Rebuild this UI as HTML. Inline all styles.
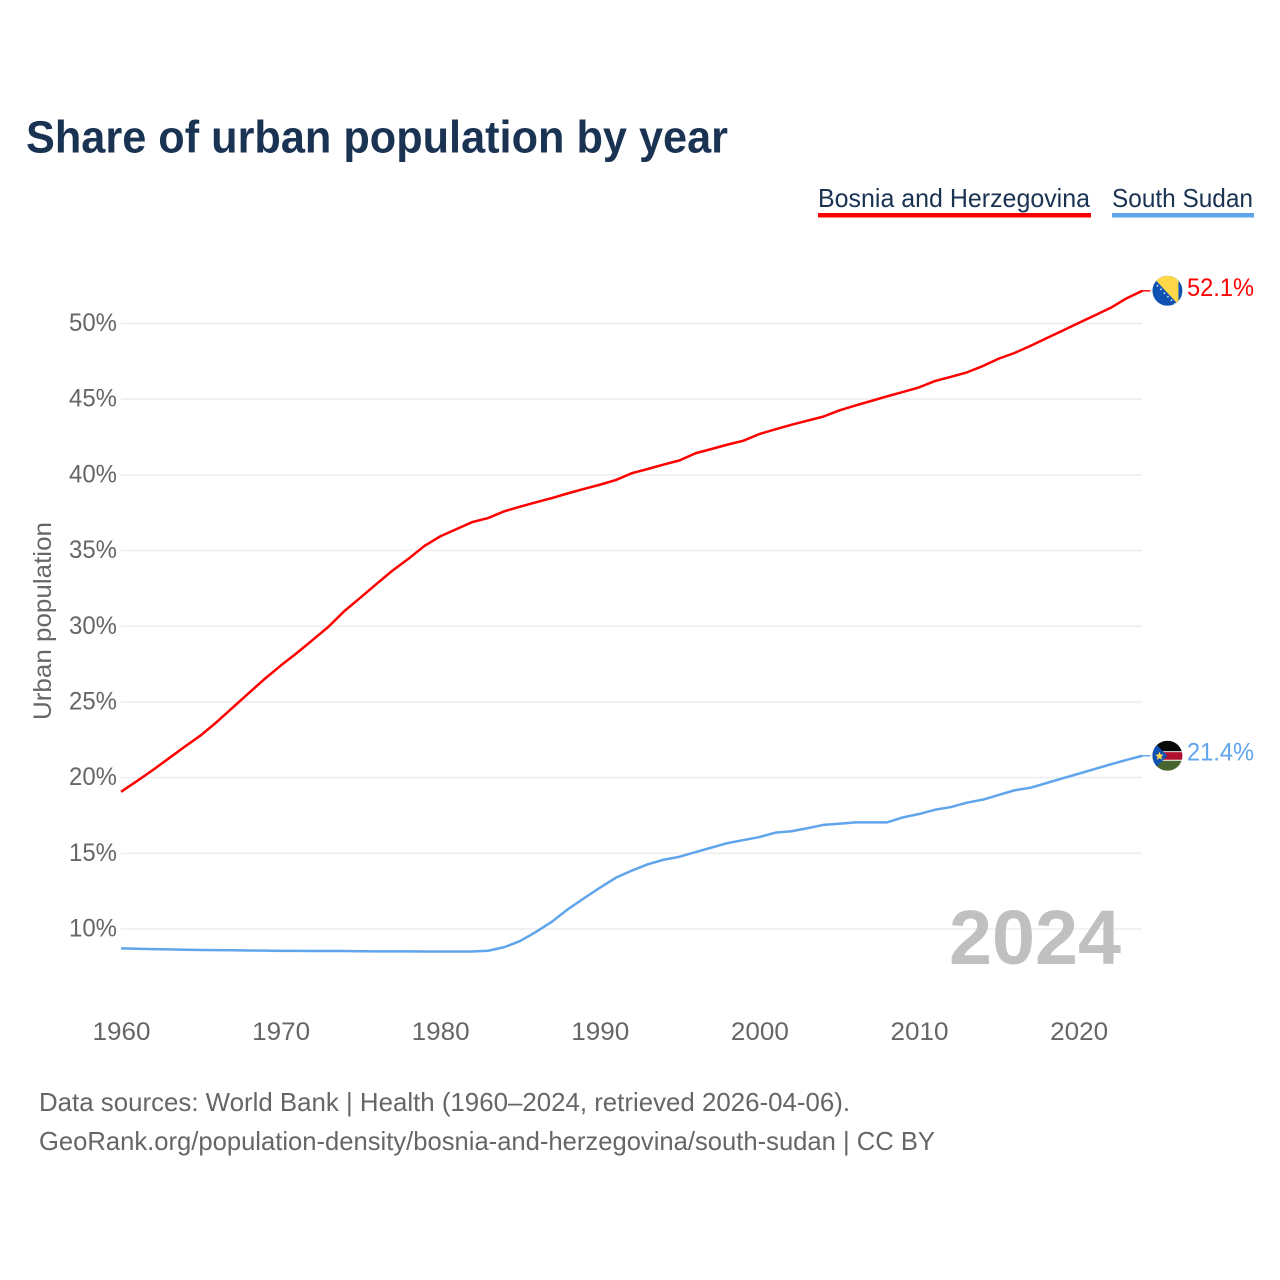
<!DOCTYPE html>
<html lang="en">
<head>
<meta charset="utf-8">
<title>Share of urban population by year</title>
<style>
html,body{margin:0;padding:0;background:#fff;width:1280px;height:1280px;overflow:hidden}
svg{display:block}
text{font-family:"Liberation Sans",sans-serif}
</style>
</head>
<body>
<svg id="chart" xmlns="http://www.w3.org/2000/svg" width="1280" height="1280" viewBox="0 0 1280 1280">
  <rect x="0" y="0" width="1280" height="1280" fill="#ffffff"/>
  <text x="26" y="152.5" font-size="45" font-weight="700" fill="#1a3353" textLength="702" lengthAdjust="spacingAndGlyphs">Share of urban population by year</text>

  <g>
    <g>
      <text x="818" y="207" font-size="26" fill="#1a3353" textLength="272" lengthAdjust="spacingAndGlyphs">Bosnia and Herzegovina</text>
      <rect x="818" y="213" width="273" height="4.5" fill="#ff0000"/>
    </g>
    <g>
      <text x="1112" y="207" font-size="26" fill="#1a3353" textLength="141" lengthAdjust="spacingAndGlyphs">South Sudan</text>
      <rect x="1112" y="213" width="142" height="4.5" fill="#60a5ec"/>
    </g>
  </g>

  <g id="grid"></g>
  <g id="yTicks"></g>
  <g id="xTicks"></g>

  <text x="51" y="720" transform="rotate(-90 51 720)" font-size="25" fill="#666666" textLength="198" lengthAdjust="spacingAndGlyphs">Urban population</text>

  <text x="949" y="964" font-size="77" font-weight="700" fill="#c0c0c0" textLength="172" lengthAdjust="spacingAndGlyphs">2024</text>

  <g id="series"></g>

  <defs>
    <clipPath id="clipBa"><circle cx="0" cy="0" r="15"/></clipPath>
    <clipPath id="clipSs"><circle cx="0" cy="0" r="15"/></clipPath>
  </defs>
  <g id="flagBa">
    <g clip-path="url(#clipBa)">
      <rect x="-15" y="-15" width="30" height="30" fill="#0f52b4"/>
      <polygon points="-14,-13 -14,-18 11,-18 11,14" fill="#ffd84a"/>
      <g fill="#cfdff5">
        <circle cx="-10" cy="-5" r="0.9"/>
        <circle cx="-6.5" cy="-1.5" r="0.9"/>
        <circle cx="-3" cy="2.5" r="0.9"/>
        <circle cx="0.5" cy="6" r="0.9"/>
        <circle cx="4" cy="9.5" r="0.9"/>
        <circle cx="7.5" cy="13" r="0.9"/>
      </g>
    </g>
  </g>
  <g id="flagSs">
    <g clip-path="url(#clipSs)">
      <rect x="-15" y="-15" width="30" height="11" fill="#0a0a0a"/>
      <rect x="-15" y="-4.5" width="30" height="9.5" fill="#ffffff"/>
      <rect x="-15" y="-3.6" width="30" height="7.6" fill="#b0112e"/>
      <rect x="-15" y="5" width="30" height="10" fill="#46662e"/>
      <polygon points="-15,-15 0,0 -15,15" fill="#0f52b4"/>
      <polygon points="-8,-4 -6.8,-1.2 -3.8,-1 -6.1,1 -5.4,4 -8,2.4 -10.6,4 -9.9,1 -12.2,-1 -9.2,-1.2" fill="#ffd84a"/>
    </g>
  </g>

  <text id="labelBa" x="1187" y="296" font-size="25" fill="#ff0000" textLength="67" lengthAdjust="spacingAndGlyphs"></text>
  <text id="labelSs" x="1187" y="761" font-size="25" fill="#60a5ec" textLength="67" lengthAdjust="spacingAndGlyphs"></text>

  <g>
    <text x="39" y="1111" font-size="26" fill="#666666" textLength="811" lengthAdjust="spacingAndGlyphs">Data sources: World Bank | Health (1960–2024, retrieved 2026-04-06).</text>
    <text x="39" y="1150" font-size="26" fill="#666666" textLength="896" lengthAdjust="spacingAndGlyphs">GeoRank.org/population-density/bosnia-and-herzegovina/south-sudan | CC BY</text>
  </g>
</svg>

<script>
const years = [1960,1961,1962,1963,1964,1965,1966,1967,1968,1969,1970,1971,1972,1973,1974,1975,1976,1977,1978,1979,1980,1981,1982,1983,1984,1985,1986,1987,1988,1989,1990,1991,1992,1993,1994,1995,1996,1997,1998,1999,2000,2001,2002,2003,2004,2005,2006,2007,2008,2009,2010,2011,2012,2013,2014,2015,2016,2017,2018,2019,2020,2021,2022,2023,2024];
const bosniaValues = [19.09,19.8,20.53,21.3,22.07,22.82,23.7,24.65,25.6,26.54,27.42,28.24,29.11,29.99,31.03,31.91,32.81,33.69,34.47,35.32,35.96,36.43,36.9,37.17,37.61,37.92,38.21,38.49,38.8,39.09,39.37,39.68,40.13,40.41,40.7,40.98,41.45,41.73,42.02,42.28,42.72,43.03,43.33,43.6,43.87,44.28,44.6,44.9,45.21,45.5,45.8,46.22,46.5,46.79,47.21,47.7,48.08,48.55,49.05,49.55,50.05,50.55,51.05,51.68,52.18];
const southSudanValues = [8.75,8.72,8.7,8.68,8.66,8.64,8.63,8.62,8.61,8.6,8.58,8.58,8.57,8.57,8.57,8.56,8.55,8.55,8.55,8.54,8.54,8.54,8.54,8.59,8.82,9.23,9.83,10.51,11.33,12.05,12.75,13.41,13.88,14.3,14.6,14.8,15.11,15.4,15.7,15.9,16.1,16.39,16.48,16.68,16.9,16.98,17.07,17.07,17.07,17.4,17.62,17.9,18.08,18.37,18.57,18.88,19.19,19.36,19.67,19.98,20.28,20.59,20.9,21.19,21.47];
const yTickValues = [10,15,20,25,30,35,40,45,50];
const yTickLabels = ["10%","15%","20%","25%","30%","35%","40%","45%","50%"];
const xTickValues = [1960,1970,1980,1990,2000,2010,2020];
const xTickLabels = ["1960","1970","1980","1990","2000","2010","2020"];
const bosniaLabel = "52.1%";
const southSudanLabel = "21.4%";

const NS = "http://www.w3.org/2000/svg";
function xScale(year){ return 121 + (year - 1960) * 15.96; }
function yScale(v){ return 929.4 - (v - 10) * 15.14; }
function make(tag, attrs){
  const el = document.createElementNS(NS, tag);
  for (const k in attrs) el.setAttribute(k, attrs[k]);
  return el;
}

const gridG = document.getElementById("grid");
const yG = document.getElementById("yTicks");
yTickValues.forEach(function(v, i){
  const line = make("line", {x1: 121, x2: 1142, y1: yScale(v) - 0.4, y2: yScale(v) - 0.4, stroke: "#eeeeee", "stroke-width": 1.6});
  
  
  gridG.appendChild(line);
  const t = make("text", {x: 117, y: yScale(v) + 7.2, "text-anchor": "end", "font-size": 25, fill: "#666666", textLength: 48, lengthAdjust: "spacingAndGlyphs"});
  
  
  t.textContent = yTickLabels[i];
  yG.appendChild(t);
});

const xG = document.getElementById("xTicks");
xTickValues.forEach(function(y, i){
  const t = make("text", {x: xScale(y) + 0.5, y: 1040, "text-anchor": "middle", "font-size": 25, fill: "#666666", textLength: 58, lengthAdjust: "spacingAndGlyphs"});
  
  
  t.textContent = xTickLabels[i];
  xG.appendChild(t);
});

function linePath(values){
  return values.map(function(v, i){
    return (i ? "L" : "M") + xScale(years[i]).toFixed(2) + " " + yScale(v).toFixed(2);
  }).join(" ");
}
const seriesG = document.getElementById("series");

const bosniaLine = make("path", {d: linePath(bosniaValues), fill: "none", stroke: "#ff0000", "stroke-width": 2.5, "stroke-linejoin": "round"});


seriesG.appendChild(bosniaLine);

const southSudanLine = make("path", {d: linePath(southSudanValues), fill: "none", stroke: "#60a5ec", "stroke-width": 2.5, "stroke-linejoin": "round"});


seriesG.appendChild(southSudanLine);

const lastBa = bosniaValues[bosniaValues.length - 1];
const lastSs = southSudanValues[southSudanValues.length - 1];
const lastX = xScale(years[years.length - 1]);

const leaderBa = make("line", {x1: lastX, x2: lastX + 8, y1: yScale(lastBa), y2: yScale(lastBa), stroke: "#ff0000", "stroke-width": 1.4});


seriesG.appendChild(leaderBa);

const leaderSs = make("line", {x1: lastX, x2: lastX + 8, y1: yScale(lastSs), y2: yScale(lastSs), stroke: "#60a5ec", "stroke-width": 1.4});


seriesG.appendChild(leaderSs);

document.getElementById("flagBa").setAttribute("transform", "translate(" + (lastX + 25) + " " + yScale(lastBa) + ")");
document.getElementById("flagSs").setAttribute("transform", "translate(" + (lastX + 25) + " " + yScale(lastSs) + ")");

const labelBa = document.getElementById("labelBa");
labelBa.textContent = bosniaLabel;
labelBa.setAttribute("y", yScale(lastBa) + 5);
const labelSs = document.getElementById("labelSs");
labelSs.textContent = southSudanLabel;
labelSs.setAttribute("y", yScale(lastSs) + 5);
</script>
</body>
</html>
